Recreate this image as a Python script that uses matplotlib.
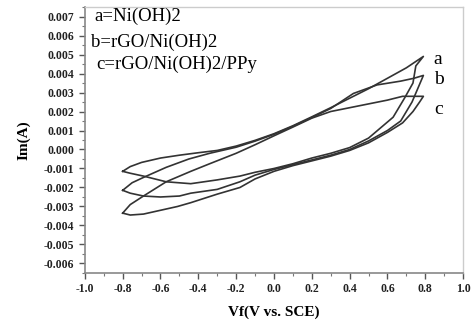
import matplotlib
matplotlib.use('Agg')
import matplotlib.pyplot as plt
from matplotlib.ticker import MultipleLocator

plt.rcParams['font.family'] = ['Liberation Serif', 'DejaVu Serif']

# loop a = Ni(OH)2  (current in mA, converted below)
a_up_x = [-0.80, -0.76, -0.70, -0.60, -0.50, -0.40, -0.30, -0.20, -0.10, 0.00,
          0.10, 0.20, 0.30, 0.40, 0.50, 0.60, 0.70, 0.79]
a_up_y = [-1.15, -0.90, -0.68, -0.45, -0.30, -0.17, -0.05, 0.18, 0.48, 0.83,
          1.25, 1.72, 2.20, 2.70, 3.20, 3.75, 4.30, 4.90]
a_dn_x = [0.79, 0.75, 0.735, 0.69, 0.63, 0.50, 0.40, 0.30, 0.20, 0.10, 0.00,
          -0.10, -0.18, -0.30, -0.44, -0.57, -0.69, -0.76, -0.80]
a_dn_y = [4.90, 4.40, 3.50, 2.70, 1.70, 0.60, 0.10, -0.20, -0.45, -0.75, -1.00,
          -1.20, -1.40, -1.60, -1.80, -1.70, -1.40, -1.25, -1.15]

# loop b = rGO/Ni(OH)2
b_up_x = [-0.80, -0.75, -0.69, -0.57, -0.45, -0.34, -0.20, -0.10, 0.00, 0.10,
          0.20, 0.30, 0.42, 0.545, 0.67, 0.74, 0.79]
b_up_y = [-2.15, -1.75, -1.47, -0.94, -0.50, -0.20, 0.12, 0.44, 0.80, 1.22,
          1.68, 2.16, 2.95, 3.40, 3.60, 3.75, 3.90]
b_dn_x = [0.79, 0.76, 0.73, 0.67, 0.60, 0.50, 0.40, 0.30, 0.20, 0.10, 0.00,
          -0.10, -0.18, -0.30, -0.44, -0.50, -0.60, -0.69, -0.76, -0.80]
b_dn_y = [3.90, 3.20, 2.50, 1.50, 1.00, 0.45, 0.00, -0.30, -0.55, -0.80, -1.05,
          -1.35, -1.70, -2.10, -2.30, -2.45, -2.50, -2.45, -2.30, -2.15]

# loop c = rGO/Ni(OH)2/PPy
c_up_x = [-0.80, -0.76, -0.69, -0.57, -0.44, -0.34, -0.20, -0.10, 0.00, 0.10,
          0.20, 0.30, 0.40, 0.50, 0.60, 0.68, 0.79]
c_up_y = [-3.35, -2.90, -2.45, -1.70, -1.15, -0.75, -0.20, 0.25, 0.72, 1.18,
          1.65, 2.00, 2.20, 2.40, 2.60, 2.80, 2.80]
c_dn_x = [0.79, 0.77, 0.735, 0.68, 0.60, 0.50, 0.40, 0.30, 0.20, 0.10, 0.00,
          -0.10, -0.18, -0.30, -0.44, -0.51, -0.60, -0.69, -0.76, -0.80]
c_dn_y = [2.80, 2.50, 2.00, 1.40, 0.90, 0.35, -0.05, -0.35, -0.60, -0.85, -1.15,
          -1.55, -2.00, -2.35, -2.80, -3.00, -3.20, -3.40, -3.45, -3.35]

loops = [(a_up_x, a_up_y, a_dn_x, a_dn_y, 'a', 4.76),
         (b_up_x, b_up_y, b_dn_x, b_dn_y, 'b', 3.70),
         (c_up_x, c_up_y, c_dn_x, c_dn_y, 'c', 2.10)]

legend_lines = ['a=Ni(OH)2', 'b=rGO/Ni(OH)2', 'c=rGO/Ni(OH)2/PPy']

fig = plt.figure(figsize=(4.74, 3.2), dpi=100)
ax = fig.add_axes([0.179, 0.147, 0.798, 0.831])

for ux, uy, dx, dy, lab, ly in loops:
    xs = ux + dx
    ys = [v / 1000.0 for v in uy + dy]
    ax.plot(xs, ys, color='#333333', lw=1.2)
    ax.text(0.845, ly / 1000.0, lab, fontsize=14, va='center', ha='left')

ax.text(-0.95, 0.0070, legend_lines[0], fontsize=13.5, va='center')
ax.text(-0.965, 0.00565, legend_lines[1], fontsize=13.5, va='center')
ax.text(-0.94, 0.0045, legend_lines[2], fontsize=13.5, va='center')

ax.set_xlim(-1.0, 1.0)
ax.set_ylim(-0.0065, 0.0075)
ax.xaxis.set_minor_locator(MultipleLocator(0.1))
ax.yaxis.set_minor_locator(MultipleLocator(0.0005))
ax.set_yticks([i / 1000.0 for i in range(-6, 8)])
ax.set_yticklabels(['%.3f' % (i / 1000.0) for i in range(-6, 8)])
ax.set_xticks([i / 10.0 for i in range(-10, 11, 2)])
ax.set_xticklabels(['%.1f' % (i / 10.0) for i in range(-10, 11, 2)])

ax.tick_params(which='major', direction='out', length=4, width=1, colors='#555555',
               labelsize=8.5, labelcolor='#222222')
ax.tick_params(which='minor', direction='out', length=2, width=0.8, colors='#777777')
for lbl in ax.get_xticklabels() + ax.get_yticklabels():
    lbl.set_fontweight('bold')

for s in ['left', 'bottom']:
    ax.spines[s].set_color('#888888')
    ax.spines[s].set_linewidth(1.2)
for s in ['top', 'right']:
    ax.spines[s].set_color('#cccccc')
    ax.spines[s].set_linewidth(1.0)

ax.set_xlabel('Vf(V vs. SCE)', fontsize=11, fontweight='bold', labelpad=7)
ax.set_ylabel('Im(A)', fontsize=11, fontweight='bold', labelpad=10)

fig.savefig('out.png', dpi=100)
